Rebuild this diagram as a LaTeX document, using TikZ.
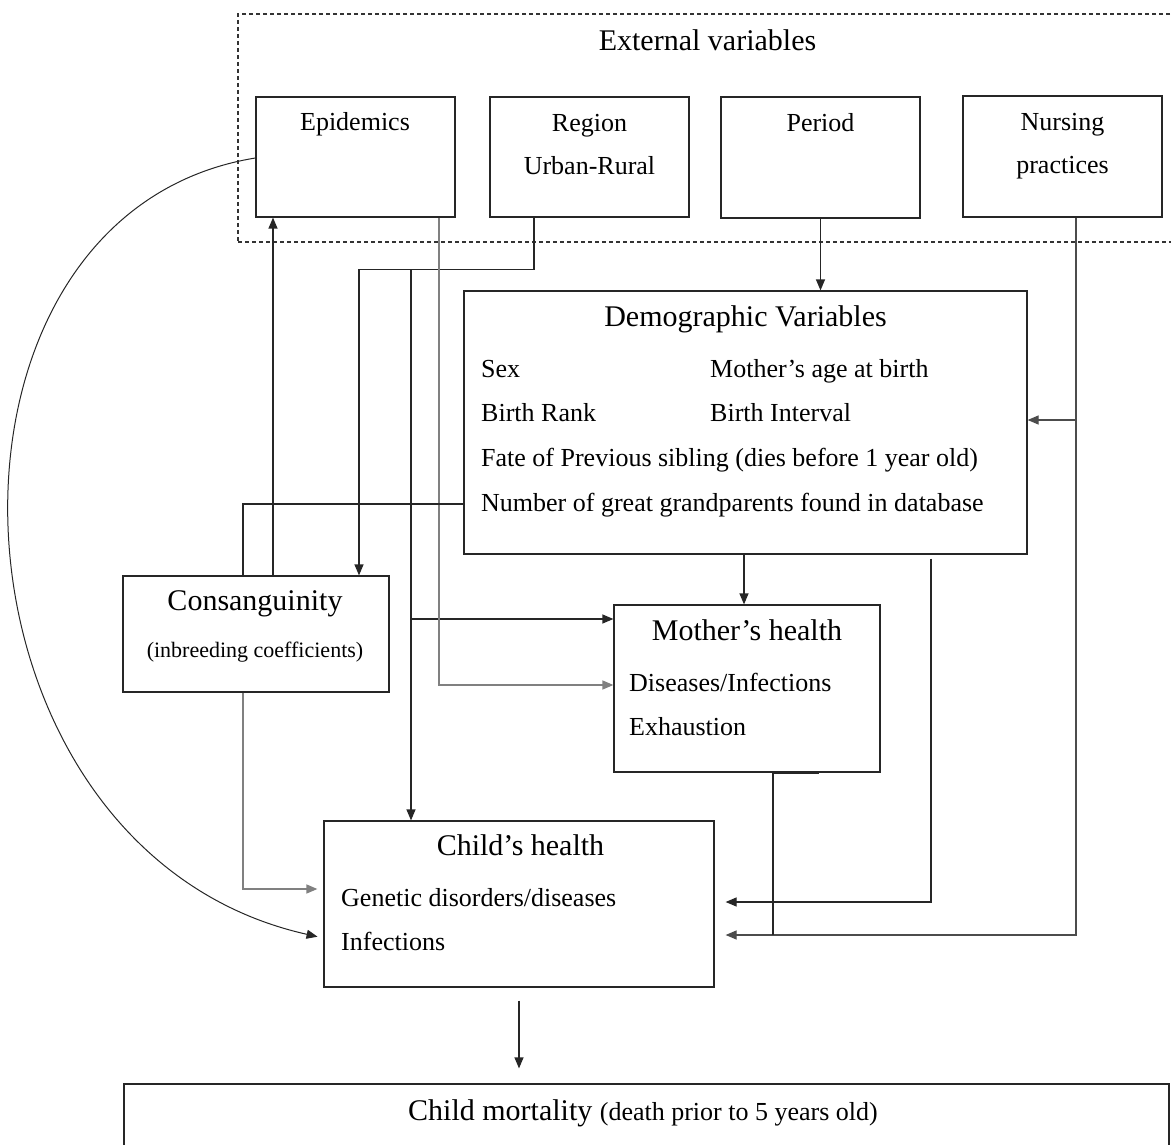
\documentclass[tikz,border=0pt]{standalone}
\usepackage{fontspec}
\setmainfont{Liberation Serif}
\usetikzlibrary{arrows.meta,calc}
\begin{document}
\begin{tikzpicture}[x=1pt,y=-1pt,
  box/.style={draw=black!85, line width=1.2pt, rectangle, inner sep=0pt},
  tip/.style={-{Triangle[length=11pt,width=9pt]}},
  arr/.style={draw=black!85, line width=1.2pt, tip},
  ln/.style={draw=black!85, line width=1.2pt},
  gline/.style={draw=black!50, line width=1.5pt},
  head/.style={font=\fontsize{30}{36}\selectfont, inner sep=0pt, anchor=base},
  txt/.style={font=\fontsize{26}{31}\selectfont, inner sep=0pt, anchor=base},
  smalltxt/.style={font=\fontsize{22}{26}\selectfont, inner sep=0pt, anchor=base},
]
\useasboundingbox (0,0) rectangle (1171,1145);
\clip (0,0) rectangle (1171,1145);

% external variables frame
\node[draw=black!80, line width=1.1pt, dash pattern=on 4pt off 3pt,
      minimum width=947pt, minimum height=228pt, inner sep=0pt] (ext) at (711.5,128) {};
\node[head] (t-ext) at (707.5,51) {External variables};

% boxes
\node[box, minimum width=199pt, minimum height=120pt] (epi) at (355.5,157) {};
\node[box, minimum width=199pt, minimum height=120pt] (reg) at (589.5,157) {};
\node[box, minimum width=199pt, minimum height=121pt] (per) at (820.5,157.5) {};
\node[box, minimum width=199pt, minimum height=121pt] (nur) at (1062.5,156.5) {};
\node[box, minimum width=563pt, minimum height=263pt] (dem) at (745.5,422.5) {};
\node[box, minimum width=266pt, minimum height=116pt] (con) at (256,634) {};
\node[box, minimum width=266pt, minimum height=167pt] (mot) at (747,688.5) {};
\node[box, minimum width=390pt, minimum height=166pt] (chi) at (519,904) {};
\node[box, minimum width=1045pt, minimum height=120pt] (mor) at (646.5,1144) {};

% texts
\node[txt] (t-epi) at (355,131) {Epidemics};
\node[txt] (t-reg1) at (589.5,132) {Region};
\node[txt] (t-reg2) at (589.5,175) {Urban-Rural};
\node[txt] (t-per) at (820.5,132) {Period};
\node[txt] (t-nur1) at (1062.5,131) {Nursing};
\node[txt] (t-nur2) at (1062.5,174) {practices};
\node[head] (t-dem) at (745.5,326) {Demographic Variables};
\node[txt, anchor=base west] (t-sex) at (481,377) {Sex};
\node[txt, anchor=base west] (t-mage) at (710,377) {Mother’s age at birth};
\node[txt, anchor=base west] (t-rank) at (481,421) {Birth Rank};
\node[txt, anchor=base west] (t-int) at (710,421) {Birth Interval};
\node[txt, anchor=base west] (t-fate) at (481,466) {Fate of Previous sibling (dies before 1 year old)};
\node[txt, anchor=base west] (t-num) at (481,511) {Number of great grandparents found in database};
\node[head] (t-con) at (255,610) {Consanguinity};
\node[smalltxt] (t-con2) at (255,657) {(inbreeding coefficients)};
\node[head] (t-mot) at (747,640) {Mother’s health};
\node[txt, anchor=base west] (t-mot1) at (629,691) {Diseases/Infections};
\node[txt, anchor=base west] (t-mot2) at (629,735) {Exhaustion};
\node[head] (t-chi) at (520.5,855) {Child’s health};
\node[txt, anchor=base west] (t-chi1) at (341,906) {Genetic disorders/diseases};
\node[txt, anchor=base west] (t-chi2) at (341,950) {Infections};
\node[head] (t-mor) at (643,1120) {Child mortality {\fontsize{26}{31}\selectfont (death prior to 5 years old)}};

% period -> demographic
\draw[arr] (per.south) -- (per.south |- dem.north);

% nursing practices
\coordinate (nurx) at ([xshift=13.5pt]nur.south);
\draw[arr, draw=black!70] (nurx) |- ([yshift=2.5pt]dem.east);
\coordinate (jn) at ([yshift=-31pt]chi.east);
\draw[arr, draw=black!70, shorten >=11pt] (nurx) |- (jn);

% mother's health -> child's health
\coordinate (ms) at ([xshift=26pt]mot.south);
\coordinate (me) at ([xshift=72pt]mot.south);
\draw[ln] (ms) -- (ms |- jn);
\draw[draw=black!85, line width=2.6pt] (ms) -- (me);

% demographic -> child's health
\coordinate (dx) at ([xshift=185.5pt,yshift=-4pt]dem.south);
\coordinate (j2) at ([yshift=2pt]chi.east);
\draw[arr, shorten >=11pt] (dx) |- (j2);

% demographic -> mother's health
\draw[arr] ([xshift=-1.5pt]dem.south) -- ([xshift=-3pt]mot.north);

% region
\coordinate (rs) at ([xshift=-55.5pt]reg.south);
\coordinate (rj) at ([yshift=-52pt]rs);
\coordinate (cn) at ([xshift=103pt]con.north);
\draw[arr] (rs) -- (rj) -| (cn);
\coordinate (rb) at ($(rj)+(-123,0)$);
\draw[arr] (rb) -- (rb |- chi.north);
\coordinate (m1) at ([yshift=69.5pt]mot.west);
\draw[arr] (rb |- m1) -- (m1);

% epidemics
\coordinate (es) at ([xshift=83.5pt]epi.south);
\coordinate (m2) at ([yshift=3.5pt]mot.west);
\draw[gline, tip] (es) |- (m2);

% consanguinity -> epidemics
\coordinate (cu) at ([xshift=17pt]con.north);
\draw[arr] (cu) -- (cu |- epi.south);

% demographic -> consanguinity
\coordinate (dl) at ([yshift=-81.5pt]dem.west);
\coordinate (cl) at ([xshift=-13pt]con.north);
\draw[ln] (dl) -| (cl);

% consanguinity -> child's health
\coordinate (cb) at ([xshift=-13pt]con.south);
\coordinate (c1) at ([yshift=15pt]chi.west);
\draw[gline, tip, shorten >=6pt] (cb) |- (c1);

% epidemics -> child's health (curve)
\coordinate (ew) at ([yshift=-1pt]epi.west);
\coordinate (c2) at ([yshift=-34pt]chi.west);
\draw[arr, line width=1pt, shorten >=6pt] (ew) .. controls (-95,215) and (-70,850) .. (c2);

% child's health -> child mortality
\draw[arr, shorten <=13pt, shorten >=15pt] (chi.south) -- (chi.south |- mor.north);

\end{tikzpicture}
\end{document}
